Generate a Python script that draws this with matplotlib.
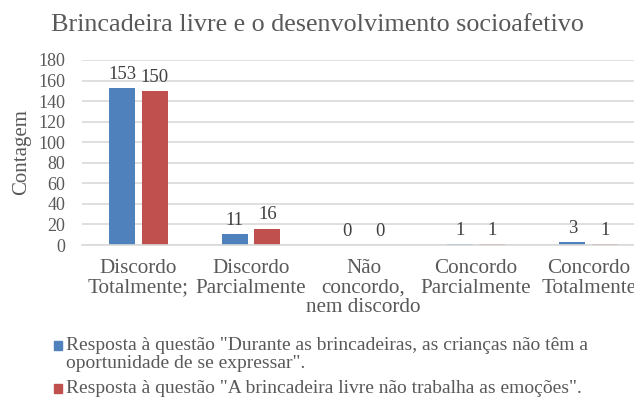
import matplotlib.pyplot as plt
import numpy as np

plt.rcParams['font.family'] = ['Liberation Serif', 'DejaVu Serif']

categorias = ["Discordo\nTotalmente;", "Discordo\nParcialmente", "Não\nconcordo,\nnem discordo",
              "Concordo\nParcialmente", "Concordo\nTotalmente"]
resp_expressar = [153, 11, 0, 1, 3]
resp_emocoes = [150, 16, 0, 1, 1]
serie_nomes = ['Resposta à questão "Durante as brincadeiras, as crianças não têm a\noportunidade de se expressar".',
               'Resposta à questão "A brincadeira livre não trabalha as emoções".']

azul = "#4f81bd"
vermelho = "#c0504d"
cinza = "#595959"

fig = plt.figure(figsize=(6.34, 4.09), dpi=100)
ax = fig.add_axes([82/634, 1 - 245/409, 563/634, (245 - 60)/409])

x = np.arange(len(categorias))
w = 0.23
b1 = ax.bar(x - 0.145, resp_expressar, w, color=azul)
b2 = ax.bar(x + 0.145, resp_emocoes, w, color=vermelho)
for barras in (b1, b2):
    for b in barras:
        ax.text(b.get_x() + b.get_width() / 2, b.get_height() + 5, f"{int(b.get_height())}",
                ha="center", va="bottom", fontsize=13.5, color="#404040")

ax.set_xlim(-0.5, len(categorias) - 0.5)
ax.set_ylim(0, 180)
ax.set_yticks(range(0, 181, 20))
ax.yaxis.grid(True, color="#d9d9d9", linewidth=1.2)
ax.set_axisbelow(True)
for s in ["top", "right", "left"]:
    ax.spines[s].set_visible(False)
ax.spines["bottom"].set_color("#d9d9d9")
ax.spines["bottom"].set_linewidth(1.2)
ax.tick_params(axis="both", length=0, labelsize=13, colors=cinza)
ax.tick_params(axis="y", pad=12)
ax.set_xticks(x)
ax.set_xticklabels(categorias, fontsize=15.2, linespacing=1.05, va="top")
ax.tick_params(axis="x", pad=10)
ax.set_ylabel("Contagem", fontsize=15, color=cinza, labelpad=5)

fig.text(0.5, 1 - 25/409, "Brincadeira livre e o desenvolvimento socioafetivo",
         ha="center", va="center", fontsize=18.8, color=cinza)

# legenda manual em duas linhas
for cor, nome, y in [(azul, serie_nomes[0], 346), (vermelho, serie_nomes[1], 389)]:
    fig.patches.append(plt.Rectangle((54/634, 1 - (y + 4)/409), 8/634, 9/409,
                                     transform=fig.transFigure, color=cor))
    fig.text(66/634, 1 - (y - 9)/409, nome, ha="left", va="top", fontsize=14,
             color=cinza, linespacing=1.05)

fig.savefig("out.png", dpi=100)
